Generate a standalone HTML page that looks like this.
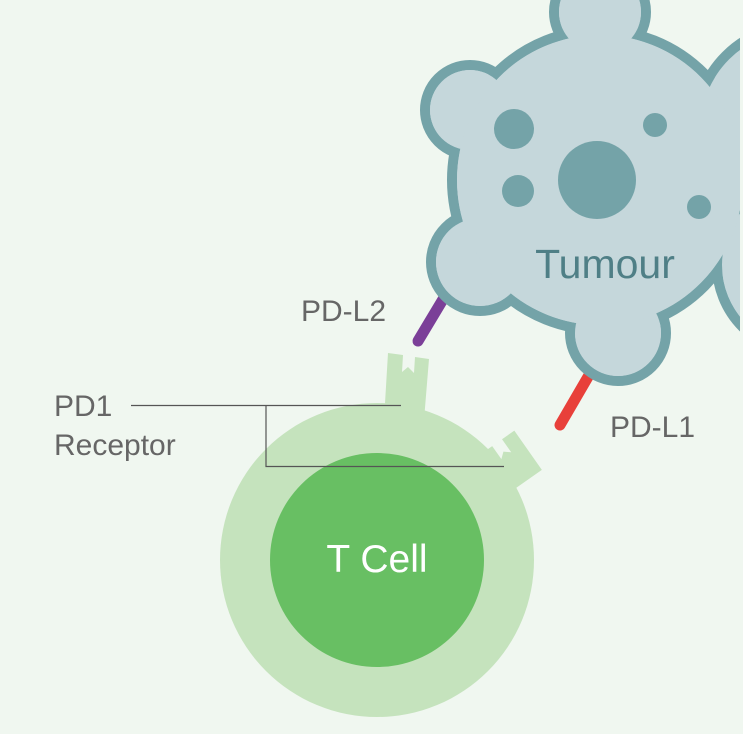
<!DOCTYPE html>
<html><head><style>
html,body{margin:0;padding:0;background:#f0f7f0;}
svg{display:block;}
text{font-family:"Liberation Sans",sans-serif;}
</style></head><body>
<svg width="743" height="734" viewBox="0 0 743 734" xmlns="http://www.w3.org/2000/svg">
<rect width="743" height="734" fill="#f0f7f0"/>
<line x1="418" y1="341" x2="445" y2="296" stroke="#7b3f98" stroke-width="11" stroke-linecap="round"/>
<line x1="560" y1="425" x2="592" y2="370" stroke="#e8403a" stroke-width="11" stroke-linecap="round"/>
<g stroke="#74a3a8" stroke-width="10" fill="#c5d7db">
<circle cx="600" cy="12" r="46"/>
<circle cx="470" cy="110" r="45"/>
<circle cx="480" cy="262" r="49"/>
<circle cx="618" cy="333" r="48"/>
<circle cx="800" cy="130" r="105"/>
<circle cx="805" cy="265" r="88"/>
<ellipse cx="600" cy="180" rx="148" ry="150"/>
</g>
<g fill="#c5d7db">
<circle cx="600" cy="12" r="41"/>
<circle cx="470" cy="110" r="40"/>
<circle cx="480" cy="262" r="44"/>
<circle cx="618" cy="333" r="43"/>
<circle cx="800" cy="130" r="100"/>
<circle cx="805" cy="265" r="83"/>
<ellipse cx="600" cy="180" rx="143" ry="145"/>
</g>
<rect x="740" y="0" width="3" height="734" fill="#f0f7f0"/>
<g fill="#74a3a8">
<circle cx="597" cy="180" r="39"/>
<circle cx="514" cy="129" r="20"/>
<circle cx="518" cy="191" r="16"/>
<circle cx="655" cy="125" r="12"/>
<circle cx="699" cy="207" r="12"/>
</g>
<text x="605" y="278" font-size="41" fill="#4f7f86" text-anchor="middle">Tumour</text>
<polygon points="388,353 403,355 402,372 408,367 414,373 415,357 429,359 424,420 384,420" fill="#c5e3bd"/>
<g transform="translate(514,465) rotate(-35)">
<polygon points="-22,-28 -7,-28 -7,-12 -1,-17 5,-12 5,-28 20,-28 20,20 -22,20" fill="#c5e3bd"/>
</g>
<circle cx="377" cy="560" r="157" fill="#c5e3bd"/>
<circle cx="377" cy="560" r="107" fill="#68bf63"/>
<text x="377" y="572" font-size="39" fill="#ffffff" text-anchor="middle">T Cell</text>
<g stroke="#555" stroke-width="1.2" fill="none">
<line x1="131" y1="405.5" x2="401" y2="405.5"/>
<polyline points="266,405.5 266,466.5 504,466.5"/>
</g>
<g font-size="30" fill="#666">
<text x="54" y="416">PD1</text>
<text x="54" y="455">Receptor</text>
<text x="301" y="321">PD-L2</text>
<text x="610" y="437">PD-L1</text>
</g>
</svg>
</body></html>
